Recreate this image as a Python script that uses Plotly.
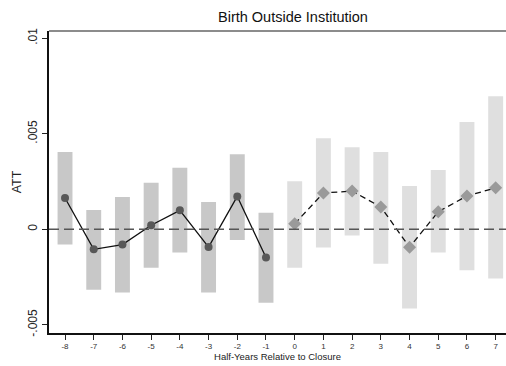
import plotly.graph_objects as go

# Event time (half-years relative to closure)
pre_t = [-8, -7, -6, -5, -4, -3, -2, -1]
post_t = [0, 1, 2, 3, 4, 5, 6, 7]

# Point estimates (ATT)
pre_att = [0.00164, -0.00105, -0.00080, 0.00021, 0.00099, -0.00093, 0.00172, -0.00148]
post_att = [0.00029, 0.00190, 0.00200, 0.00117, -0.00094, 0.00092, 0.00174, 0.00217]

# Confidence interval bounds
pre_lo = [-0.00080, -0.00316, -0.00331, -0.00201, -0.00122, -0.00331, -0.00056, -0.00384]
pre_hi = [0.00404, 0.00101, 0.00169, 0.00244, 0.00322, 0.00143, 0.00393, 0.00087]
post_lo = [-0.00202, -0.00096, -0.00033, -0.00180, -0.00415, -0.00122, -0.00214, -0.00258]
post_hi = [0.00252, 0.00477, 0.00430, 0.00404, 0.00226, 0.00310, 0.00561, 0.00697]

y_ticks = [-0.005, 0, 0.005, 0.01]
y_tick_text = ["-.005", "0", ".005", ".01"]
x_ticks = list(range(-8, 8))
x_tick_text = [str(t) for t in x_ticks]

FONT = "Liberation Sans, Arial, sans-serif"

fig = go.Figure()

fig.add_trace(go.Bar(
    x=pre_t, base=pre_lo, y=[h - l for h, l in zip(pre_hi, pre_lo)],
    width=0.52, marker=dict(color="#c8c8c8", line=dict(width=0)),
    showlegend=False, hoverinfo="skip"))
fig.add_trace(go.Bar(
    x=post_t, base=post_lo, y=[h - l for h, l in zip(post_hi, post_lo)],
    width=0.52, marker=dict(color="#dfdfdf", line=dict(width=0)),
    showlegend=False, hoverinfo="skip"))

fig.add_trace(go.Scatter(
    x=pre_t, y=pre_att, mode="lines+markers",
    line=dict(color="#111111", width=1.3),
    marker=dict(symbol="circle", size=8, color="#585858"),
    showlegend=False))
fig.add_trace(go.Scatter(
    x=post_t, y=post_att, mode="lines+markers",
    line=dict(color="#111111", width=1.3, dash="6px,4px"),
    marker=dict(symbol="diamond", size=10, color="#9a9a9a"),
    showlegend=False))

fig.update_layout(
    width=506, height=366,
    margin=dict(l=49, r=0, t=31, b=33),
    paper_bgcolor="white", plot_bgcolor="white",
    font=dict(family=FONT, color="#222222"),
    barmode="overlay",
    xaxis=dict(
        range=[-8.558, 7.36], tickvals=x_ticks, ticktext=x_tick_text,
        ticks="outside", ticklen=5, tickcolor="#222222", tickwidth=1,
        showline=True, linecolor="#111111", linewidth=1.5,
        showgrid=False, zeroline=False,
        tickfont=dict(size=8, color="#333333"),
        title=dict(text="Half-Years Relative to Closure", font=dict(size=9.5, color="#222222"), standoff=1),
    ),
    yaxis=dict(
        range=[-0.00543, 0.01038], tickvals=y_ticks, ticktext=y_tick_text,
        tickangle=-90,
        ticks="outside", ticklen=5, tickcolor="#222222", tickwidth=1,
        showline=True, linecolor="#111111", linewidth=1.5,
        showgrid=False, zeroline=False,
        tickfont=dict(size=12, color="#222222"),
        title=dict(text="ATT", font=dict(size=12.5, color="#222222"), standoff=2),
    ),
    shapes=[
        dict(type="line", xref="paper", yref="y", x0=0, x1=1, y0=0, y1=0,
             line=dict(color="#555555", width=1.5, dash="10px,5px"), layer="above"),
        dict(type="line", xref="paper", yref="paper", x0=0, x1=1, y0=1, y1=1,
             line=dict(color="#666666", width=1.5)),
    ],
    annotations=[
        dict(text="Birth Outside Institution", xref="paper", yref="paper",
             x=0.535, y=1.0, yshift=4, xanchor="center", yanchor="bottom",
             showarrow=False, font=dict(size=14.5, color="#111111")),
    ],
)

fig.write_html("out.html")
